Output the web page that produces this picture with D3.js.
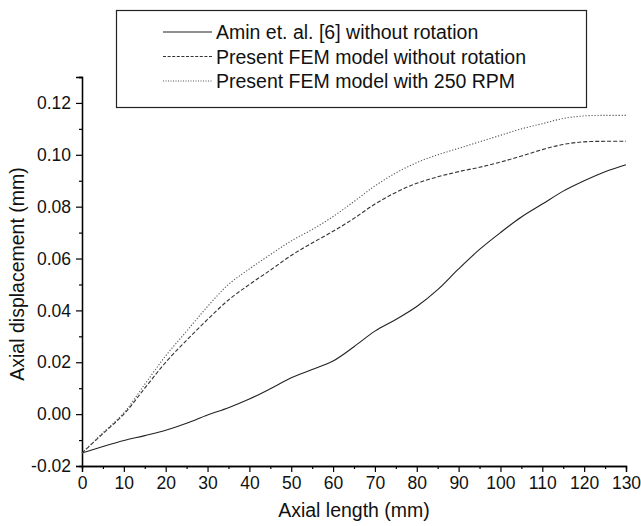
<!DOCTYPE html>
<html>
<head>
<meta charset="utf-8">
<script src="https://cdn.jsdelivr.net/npm/d3@7"></script>
<style>
  body { margin: 0; background: #fff; }
  svg { display: block; font-family: "Liberation Sans", Arial, Helvetica, sans-serif; }
</style>
</head>
<body>
<svg id="chart" width="641" height="526"></svg>
<script>
const xValues = [0,5,10,15,20,25,30,35,40,45,50,55,60,65,70,75,80,85,90,95,100,105,110,115,120,125,130];
const aminNoRotation = [-0.015,-0.0125,-0.0102,-0.0083,-0.0062,-0.0035,-0.0003,0.0025,0.0058,0.0098,0.0140,0.0172,0.0205,0.0260,0.0320,0.0365,0.0415,0.0480,0.0560,0.0635,0.0700,0.0760,0.0810,0.0860,0.0900,0.0935,0.0962];
const femNoRotation = [-0.015,-0.0075,0.0000,0.0100,0.0200,0.0285,0.0365,0.0440,0.0500,0.0555,0.0612,0.0660,0.0705,0.0755,0.0810,0.0855,0.0890,0.0915,0.0935,0.0952,0.0972,0.0995,0.1020,0.1040,0.1050,0.1052,0.1052];
const fem250rpm = [-0.015,-0.0072,0.0005,0.0115,0.0225,0.0320,0.0415,0.0500,0.0560,0.0615,0.0668,0.0712,0.0762,0.0820,0.0880,0.0930,0.0970,0.1000,0.1025,0.1050,0.1075,0.1100,0.1120,0.1140,0.1150,0.1152,0.1152];
const seriesNames = ["Amin et. al. [6] without rotation","Present FEM model without rotation","Present FEM model with 250 RPM"];
const xTicks = [0,10,20,30,40,50,60,70,80,90,100,110,120,130];
const yTicks = [-0.02,0.00,0.02,0.04,0.06,0.08,0.10,0.12];
const xTitle = "Axial length (mm)";
const yTitle = "Axial displacement (mm)";

const svg = d3.select("#chart");
const m = {left: 82, right: 626, top: 77, bottom: 466};
const x = d3.scaleLinear().domain([0,130]).range([m.left, m.right]);
const y = d3.scaleLinear().domain([-0.02,0.13]).range([m.bottom, m.top]);

// axes
const xAxis = d3.axisBottom(x).tickValues(xTicks).tickSize(6).tickPadding(5).tickFormat(d => String(d));
const xMinor = d3.axisBottom(x).tickValues(d3.range(5,130,10)).tickSize(3).tickFormat("");
const yAxis = d3.axisLeft(y).tickValues(yTicks).tickSize(6).tickPadding(5).tickFormat(d => d.toFixed(2));
const yMinor = d3.axisLeft(y).tickValues([-0.01,0.01,0.03,0.05,0.07,0.09,0.11,0.13]).tickSize(3).tickFormat("");

function style(g){
  g.select(".domain").attr("stroke","#000").attr("stroke-width",1.3);
  g.selectAll(".tick line").attr("stroke","#000").attr("stroke-width",1.2);
  g.selectAll(".tick text").attr("fill","#111").style("font-size","17.5px");
}
svg.append("g").attr("transform",`translate(0,${m.bottom})`).call(xMinor).call(style);
svg.append("g").attr("transform",`translate(0,${m.bottom})`).call(xAxis).call(style);
svg.append("g").attr("transform",`translate(${m.left},0)`).call(yMinor).call(style);
svg.append("g").attr("transform",`translate(${m.left},0)`).call(yAxis).call(style);

svg.append("text").attr("x",(m.left+m.right)/2).attr("y",517).attr("text-anchor","middle")
  .style("font-size","19.5px").attr("fill","#111").text(xTitle);
svg.append("text").attr("transform",`translate(24,274) rotate(-90)`).attr("text-anchor","middle")
  .style("font-size","19.5px").attr("fill","#111").text(yTitle);

// lines
const dashes = [null, "4,2", "1.2,1.8"];
const colors = ["#222","#333","#555"];
const data = [aminNoRotation, femNoRotation, fem250rpm];
const line = d3.line().x(d=>x(d[0])).y(d=>y(d[1])).curve(d3.curveCatmullRom);
data.forEach((vals,i)=>{
  svg.append("path").datum(xValues.map((xv,j)=>[xv,vals[j]]))
    .attr("d",line).attr("fill","none").attr("stroke",colors[i]).attr("stroke-width",1.1)
    .attr("stroke-dasharray",dashes[i]);
});

// legend
const lg = svg.append("g");
lg.append("rect").attr("x",116.5).attr("y",10.5).attr("width",470).attr("height",97)
  .attr("fill","#fff").attr("stroke","#222").attr("stroke-width",1.2);
const legendDash = [null, "3,1.6", "1,1.5"];
seriesNames.forEach((name,i)=>{
  const yy = 32 + i*24.5;
  lg.append("line").attr("x1",163).attr("x2",212).attr("y1",yy).attr("y2",yy)
    .attr("stroke",colors[i]).attr("stroke-width",1.1).attr("stroke-dasharray",legendDash[i]);
  lg.append("text").attr("x",216).attr("y",yy+7).style("font-size","19.5px").attr("fill","#111").text(name);
});
</script>
</body>
</html>
